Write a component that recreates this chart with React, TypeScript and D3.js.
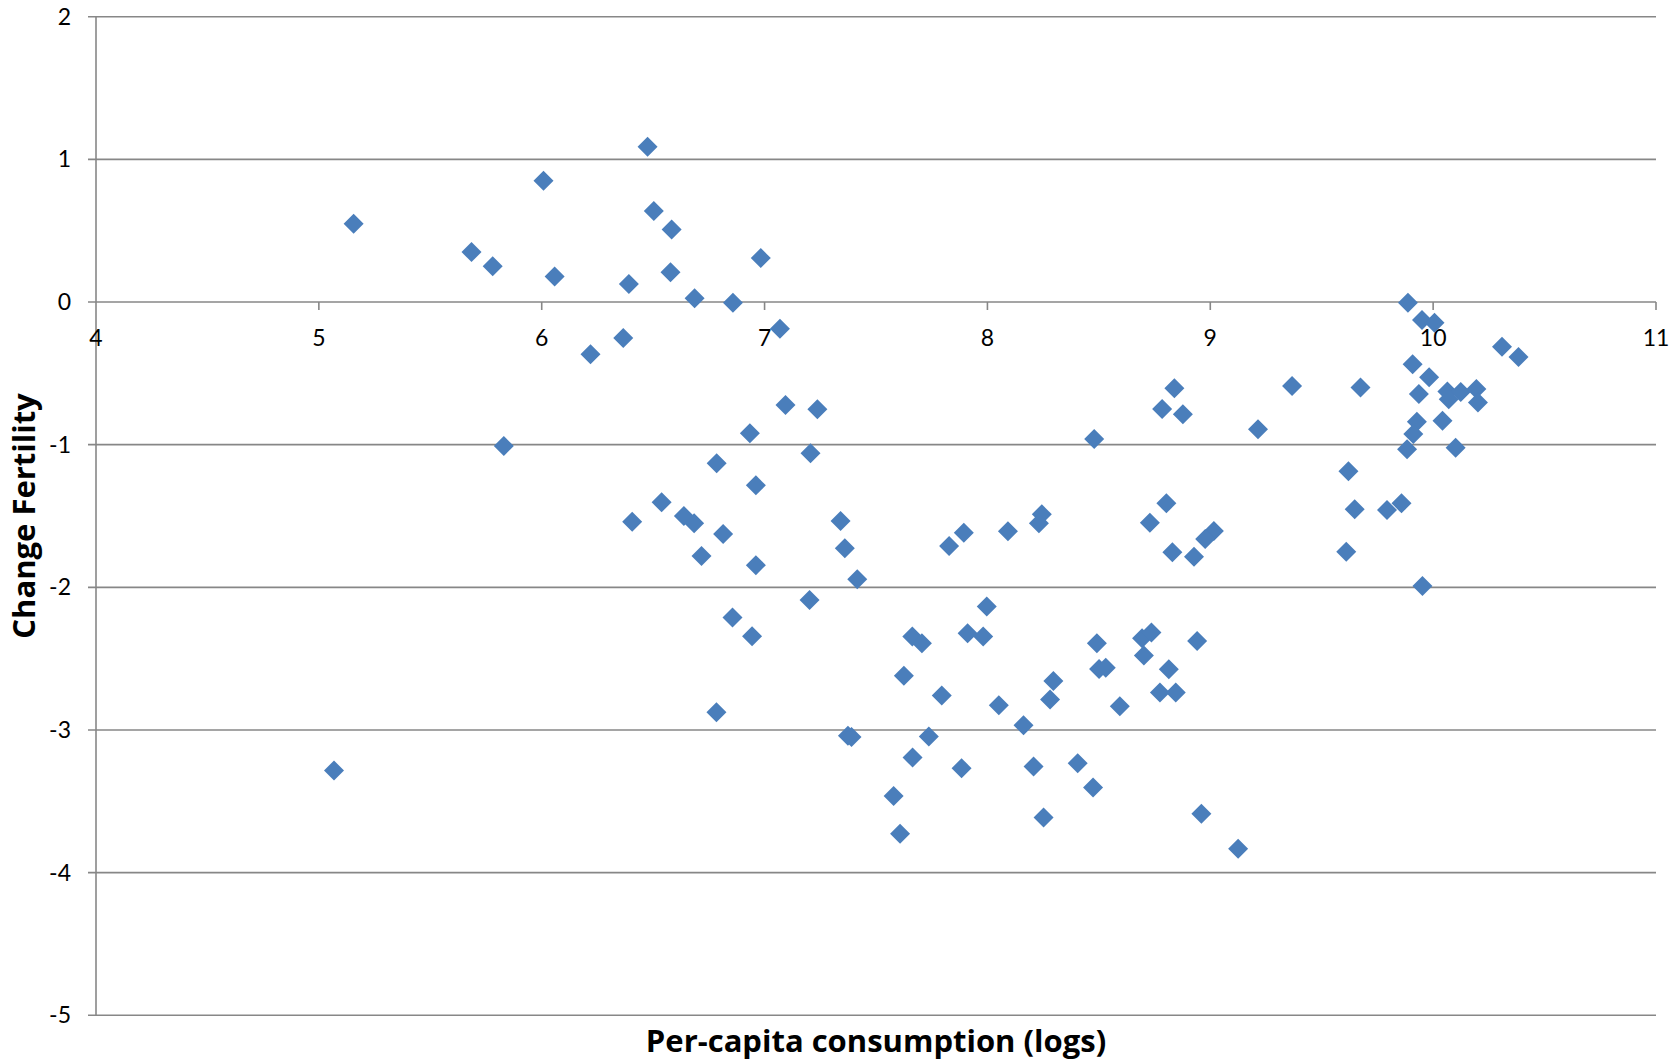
import React from 'react';
import * as d3 from 'd3';

// per-capita consumption (logs) and change in fertility
const consumption = [
  5.156, 6.008, 5.685, 5.78, 6.058, 6.219, 5.83,
  6.475, 6.503, 6.583, 6.983, 6.391, 6.578, 6.686, 6.858, 6.366, 7.069, 7.094, 7.237, 6.934, 8.479, 6.785, 7.206,
  9.887, 9.95, 10.006, 10.309, 10.383, 9.908, 9.982, 8.839, 9.367, 9.674, 9.936, 10.064, 10.124, 10.194, 10.07,
  10.201, 8.784, 8.877, 9.927, 10.042, 9.214, 9.911, 9.883, 10.101, 9.62,
  5.068,
  6.961, 6.538, 6.406, 6.638, 6.684, 6.814, 6.717, 6.961, 7.341, 7.36, 7.416, 7.202, 6.856, 6.944, 6.784,
  7.828, 7.894, 8.092, 8.244, 8.231, 7.997, 7.663, 7.706, 7.911, 7.981, 8.491, 8.501, 8.531, 7.625, 8.296,
  8.281, 7.795, 8.051, 8.594, 8.162, 7.374, 7.39, 7.737, 7.664, 7.884, 8.207, 8.405, 8.474, 7.579, 8.252, 7.608,
  8.803, 8.729, 9.016, 8.977, 8.83, 8.927, 9.648, 9.793, 9.858, 9.61, 9.952, 8.694, 8.736, 8.941, 8.702,
  8.814, 8.774, 8.845, 8.96, 9.125,
];

const fertilityChange = [
  0.549, 0.85, 0.35, 0.25, 0.178, -0.367, -1.009,
  1.088, 0.638, 0.509, 0.308, 0.126, 0.208, 0.026, -0.005, -0.252, -0.187, -0.722, -0.752, -0.92, -0.96, -1.131, -1.061,
  -0.005, -0.126, -0.145, -0.313, -0.385, -0.437, -0.528, -0.605, -0.589, -0.6, -0.645, -0.628, -0.631, -0.61, -0.682,
  -0.705, -0.75, -0.787, -0.839, -0.832, -0.892, -0.925, -1.032, -1.021, -1.187,
  -3.284,
  -1.285, -1.404, -1.54, -1.5, -1.551, -1.626, -1.78, -1.845, -1.535, -1.726, -1.944, -2.088, -2.212, -2.343, -2.875,
  -1.71, -1.617, -1.607, -1.488, -1.551, -2.135, -2.345, -2.392, -2.322, -2.345, -2.392, -2.572, -2.563, -2.619, -2.656,
  -2.787, -2.759, -2.827, -2.834, -2.967, -3.04, -3.05, -3.046, -3.193, -3.268, -3.256, -3.233, -3.404, -3.462, -3.614, -3.728,
  -1.411, -1.547, -1.605, -1.661, -1.754, -1.785, -1.453, -1.458, -1.411, -1.75, -1.99, -2.357, -2.317, -2.376, -2.478,
  -2.574, -2.738, -2.738, -3.588, -3.832,
];

const xTicks = [4, 5, 6, 7, 8, 9, 10, 11];
const yTicks = [2, 1, 0, -1, -2, -3, -4, -5];

const W = 1670;
const H = 1062;
const gridColor = '#878787';
const markerColor = '#4a7ebb';
const tickFont = 'Lato, "Open Sans", sans-serif';
const titleFont = '"Open Sans", Lato, sans-serif';

export default function App() {
  const x = d3.scaleLinear().domain([4, 11]).range([96, 1656]);
  const y = d3.scaleLinear().domain([-5, 2]).range([1015.3, 16.7]);
  const diamond = d3.symbol(d3.symbolSquare, 200)()!;
  const points = consumption.map((c, i) => ({ c, f: fertilityChange[i] }));

  return (
    <svg width={W} height={H} style={{ position: 'absolute', left: 0, top: 0, background: '#fff' }}>
      {yTicks.map((t) => (
        <g key={'y' + t}>
          <line x1={88} x2={x(11)} y1={y(t)} y2={y(t)} stroke={gridColor} strokeWidth={1.6} />
          <text x={71} y={y(t)} dy="0.35em" textAnchor="end" fontFamily={tickFont} fontSize={23} fill="#000">
            {t}
          </text>
        </g>
      ))}
      <line x1={x(4)} x2={x(4)} y1={y(2)} y2={y(-5)} stroke={gridColor} strokeWidth={1.6} />
      {xTicks.map((t) => (
        <g key={'x' + t}>
          {t > 4 && <line x1={x(t)} x2={x(t)} y1={y(0)} y2={y(0) + 8} stroke={gridColor} strokeWidth={1.6} />}
          <text x={x(t)} y={346} textAnchor="middle" fontFamily={tickFont} fontSize={23} fill="#000">
            {t}
          </text>
        </g>
      ))}
      {points.map((p, i) => (
        <path
          key={i}
          d={diamond}
          transform={`translate(${x(p.c)},${y(p.f)}) rotate(45)`}
          fill={markerColor}
        />
      ))}
      <text x={(x(4) + x(11)) / 2} y={1052} textAnchor="middle" fontFamily={titleFont} fontWeight="bold" fontSize={31} fill="#000">
        Per-capita consumption (logs)
      </text>
      <text
        transform={`translate(35,${(y(2) + y(-5)) / 2}) rotate(-90)`}
        textAnchor="middle"
        fontFamily={titleFont}
        fontWeight="bold"
        fontSize={31}
        fill="#000"
      >
        Change Fertility
      </text>
    </svg>
  );
}
